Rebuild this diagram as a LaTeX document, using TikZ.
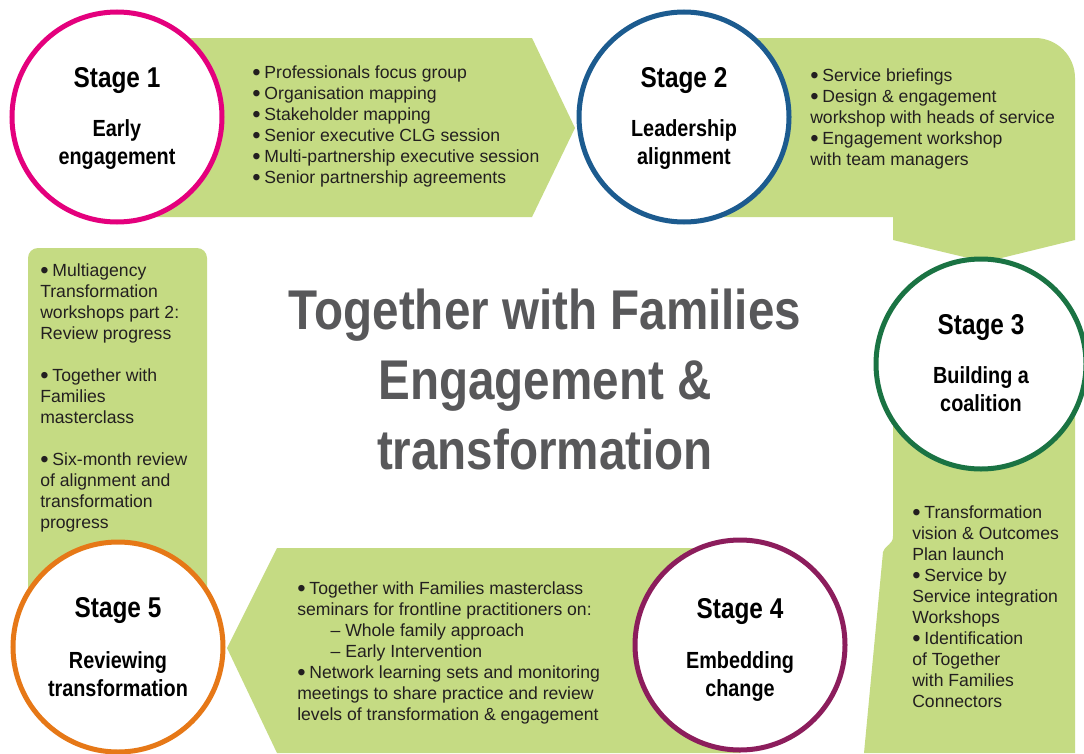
\documentclass[tikz,border=0pt]{standalone}
\usepackage{fontspec}
\setmainfont{Liberation Sans}
\newfontfamily\condfont[FakeStretch=0.85]{Liberation Sans}
\usetikzlibrary{positioning}
\definecolor{leaf}{RGB}{197,219,131}
\definecolor{ringpink}{RGB}{228,0,125}
\definecolor{ringblue}{RGB}{28,91,143}
\definecolor{ringgreen}{RGB}{26,115,67}
\definecolor{ringplum}{RGB}{140,29,92}
\definecolor{ringorange}{RGB}{230,120,23}
\definecolor{titlegrey}{RGB}{88,88,90}
\definecolor{bodytext}{RGB}{35,31,32}
\tikzset{
    band/.style = {fill=leaf},
    stage-circle/.style = {circle, draw=#1, line width=3.75pt, fill=white, minimum size=157.5pt, inner sep=0pt},
    stage-title/.style = {font=\condfont\bfseries\fontsize{21.5}{25}\selectfont, inner sep=0pt},
    stage-name/.style = {font=\condfont\bfseries\fontsize{17.5}{21}\selectfont, align=center, inner sep=0pt},
    list-text/.style = {font=\fontsize{13.2}{15.75}\selectfont, text=bodytext, align=left, inner sep=0pt, anchor=north west},
    main-title/.style = {font=\condfont\bfseries\fontsize{42}{52.5}\selectfont, text=titlegrey, align=center, inner sep=0pt},
}
\newcommand{\bul}{\smash{\raisebox{-0.3ex}{\scalebox{1.35}{\textbullet}}}\hspace{0.22em}}

\begin{document}
\begin{tikzpicture}[x=0.75pt, y=-0.75pt]
\useasboundingbox (0,0) rectangle (1084,753);
\fill[white] (0,0) rectangle (1084,753);

% green bands behind the stages
\fill[band] (117,38) -- (532,38) -- (575,128) -- (532,217) -- (117,217) -- cycle;
\fill[band] (684,38) -- (1035,38) arc[start angle=-90, end angle=0, radius=40] -- (1075,240) -- (985,262) -- (893,240) -- (893,217) -- (684,217) -- cycle;
\fill[band] (893,364) -- (893,536) .. controls (893,545) and (886,544) .. (883,552) -- (864,753) -- (1075,753) -- (1075,364) -- cycle;
\fill[band] (740,548) -- (277,548) -- (227,648) -- (277,753) -- (740,753) -- cycle;
\fill[band, rounded corners=7.5pt] (28,248) rectangle (207,645);

% stages
\node[stage-circle=ringpink] (s1) at (117,117) {};
\node[stage-circle=ringblue] (s2) at (684,117) {};
\node[stage-circle=ringgreen] (s3) at (981,364) {};
\node[stage-circle=ringplum] (s4) at (740,645) {};
\node[stage-circle=ringorange] (s5) at (118,647) {};

\node[stage-title, anchor=base] (h1) at ([yshift=22.5pt]s1.center) {Stage 1};
\node[stage-name, below=24pt of h1.base] (n1) {Early\\engagement};
\node[stage-title, anchor=base] (h2) at ([yshift=22.5pt]s2.center) {Stage 2};
\node[stage-name, below=24pt of h2.base] (n2) {Leadership\\alignment};
\node[stage-title, anchor=base] (h3) at ([yshift=22.5pt]s3.center) {Stage 3};
\node[stage-name, below=24pt of h3.base] (n3) {Building a\\coalition};
\node[stage-title, anchor=base] (h4) at ([yshift=20pt]s4.center) {Stage 4};
\node[stage-name, below=25pt of h4.base] (n4) {Embedding\\change};
\node[stage-title, anchor=base] (h5) at ([yshift=22pt]s5.center) {Stage 5};
\node[stage-name, below=25pt of h5.base] (n5) {Reviewing\\transformation};

% activities
\node[list-text] (a1) at (252,65) {\bul Professionals focus group\\\bul Organisation mapping\\\bul Stakeholder mapping\\\bul Senior executive CLG session\\\bul Multi-partnership executive session\\\bul Senior partnership agreements};
\node[list-text] (a2) at (810,68) {\bul Service briefings\\\bul Design \& engagement\\workshop with heads of service\\\bul Engagement workshop\\with team managers};
\node[list-text] (a3) at (912,505) {\bul Transformation\\vision \& Outcomes\\Plan launch\\\bul Service by\\Service integration\\Workshops\\\bul Identification\\of Together\\with Families\\Connectors};
\node[list-text] (a4) at (297,581) {\bul Together with Families masterclass\\seminars for frontline practitioners on:\\\hspace*{25pt}\textendash\ Whole family approach\\\hspace*{25pt}\textendash\ Early Intervention\\\bul Network learning sets and monitoring\\meetings to share practice and review\\levels of transformation \& engagement};
\node[list-text] (a5) at (40,263) {\bul Multiagency\\Transformation\\workshops part 2:\\Review progress\\[15.75pt]\bul Together with\\Families\\masterclass\\[15.75pt]\bul Six-month review\\of alignment and\\transformation\\progress};

\node[main-title, anchor=north] (title) at (545,289) {Together with Families\\Engagement \&\\transformation};
\end{tikzpicture}
\end{document}
